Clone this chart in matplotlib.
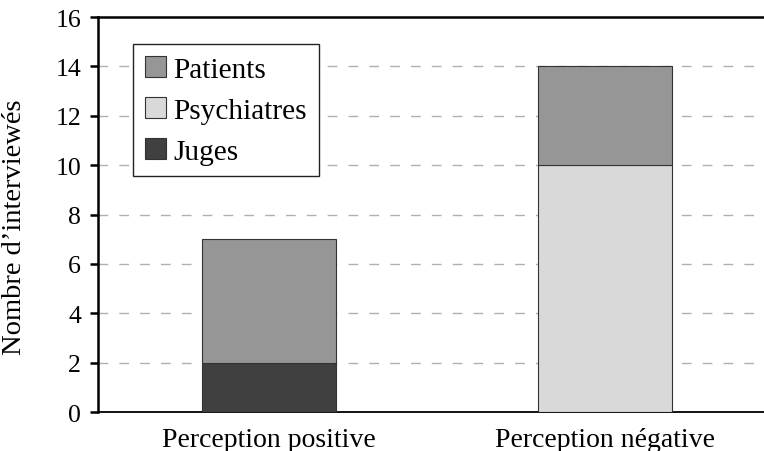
import matplotlib
matplotlib.use("Agg")
import matplotlib.pyplot as plt
import numpy as np

categories = ["Perception positive", "Perception négative"]
juges = [2, 0]
psychiatres = [0, 10]
patients = [5, 4]
yticks = [0, 2, 4, 6, 8, 10, 12, 14, 16]

plt.rcParams['font.family'] = ['Liberation Serif', 'DejaVu Serif']

fig = plt.figure(figsize=(7.64, 4.52), dpi=100)
ax = fig.add_axes([0.128, 0.086, 0.922, 0.874])

x = np.arange(len(categories))
w = 0.4
ec = '#333333'
b1 = ax.bar(x, juges, w, color='#404040', edgecolor=ec, linewidth=0.8, label='Juges', zorder=3)
b2 = ax.bar(x, psychiatres, w, bottom=juges, color='#d9d9d9', edgecolor=ec, linewidth=0.8, label='Psychiatres', zorder=3)
bottom2 = [a + b for a, b in zip(juges, psychiatres)]
b3 = ax.bar(x, patients, w, bottom=bottom2, color='#969696', edgecolor=ec, linewidth=0.8, label='Patients', zorder=3)

ax.set_xlim(-0.51, -0.51 + (0.922 * 764) / 336)
ax.set_ylim(0, 16)
ax.set_yticks(yticks)
ax.set_xticks(x)
ax.set_xticklabels(categories, fontsize=20)
ax.tick_params(axis='x', length=0, pad=11)
ax.tick_params(axis='y', direction='out', length=6, width=1.8, labelsize=18.5, pad=6)

for v in yticks[1:-1]:
    ax.axhline(v, color='#b0b0b0', linestyle=(0, (7, 8)), linewidth=1.0, zorder=1)

ax.spines['right'].set_visible(False)
ax.spines['left'].set_linewidth(1.8)
ax.spines['top'].set_linewidth(1.8)
ax.spines['bottom'].set_linewidth(1.3)

ax.set_ylabel("Nombre d\u2019interviewés", fontsize=20.5)
ax.yaxis.set_label_coords(-0.1, 0.47)

leg = ax.legend(handles=[b3, b2, b1], labels=['Patients', 'Psychiatres', 'Juges'],
                loc='upper left', bbox_to_anchor=(0.05, 0.932), fontsize=21.2,
                frameon=True, fancybox=False, edgecolor='#222222', framealpha=1,
                handlelength=0.73, handleheight=0.73, borderpad=0.4, labelspacing=0.48,
                handletextpad=0.25, borderaxespad=0)
leg.get_frame().set_linewidth(1.0)

fig.savefig("out.png", dpi=100)
